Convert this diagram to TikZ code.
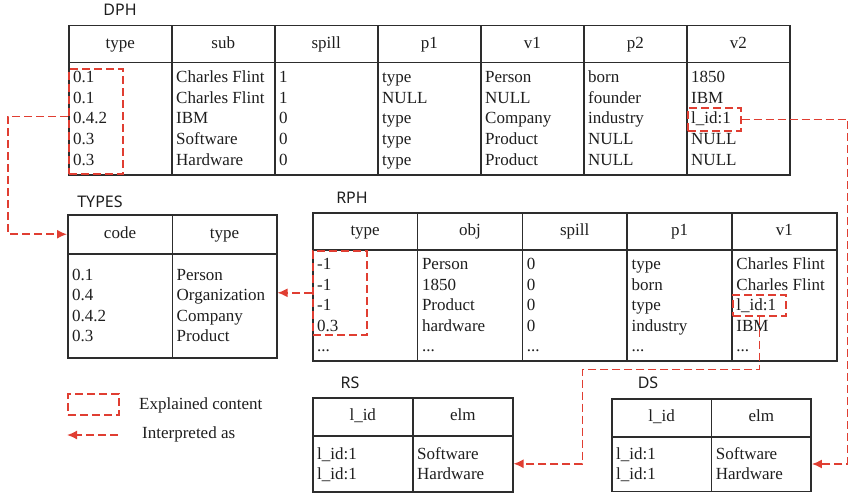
\documentclass[tikz,border=0pt]{standalone}
\usepackage{fontspec}
\setmainfont{Liberation Serif}
\newfontfamily\titlefont{Noto Sans}
\usetikzlibrary{arrows.meta}

\definecolor{tabline}{RGB}{45,45,45}
\definecolor{ink}{RGB}{30,30,30}
\definecolor{marker}{RGB}{224,62,50}

\newcommand\etcdots{...}

\tikzset{
  headcell/.style={draw=tabline, line width=1.5pt, anchor=north west, inner sep=0pt,
    text height=12pt, text depth=4pt},
  bodycell/.style={draw=tabline, line width=1.5pt, anchor=north west, inner sep=0pt},
  entry/.style={anchor=base west, inner sep=0pt},
  tabname/.style={font=\titlefont\fontsize{16}{16}\selectfont},
  explained/.style={draw=marker, line width=1.6pt, dash pattern=on 8pt off 4pt,
    anchor=north west, inner sep=0pt},
  interp/.style={draw=marker, line width=1.6pt, dash pattern=on 8pt off 4pt,
    -{Latex[length=10pt,width=9pt]}},
}

\begin{document}
\begin{tikzpicture}[x=1pt, y=-1pt, text=ink, font=\fontsize{17}{20.5}\selectfont]
\useasboundingbox (0,0) rectangle (850,492);

%DPH
\node[tabname] (dphname) at (120,10) {DPH};
\foreach \h [count=\c] in {type,sub,spill,p1,v1,p2,v2} {
  \node[headcell, minimum width=103pt, minimum height=37pt] (dph-h\c) at ({68+103*(\c-1)},25) {\h};
  \node[bodycell, minimum width=103pt, minimum height=112pt] (dph-b\c) at ({68+103*(\c-1)},62) {};
}
\foreach \c/\col in {1/{0.1,0.1,0.4.2,0.3,0.3},
    2/{Charles Flint,Charles Flint,IBM,Software,Hardware},
    3/{1,1,0,0,0},
    4/{type,NULL,type,type,type},
    5/{Person,NULL,Company,Product,Product},
    6/{born,founder,industry,NULL,NULL},
    7/{1850,IBM,l\_id:1,NULL,NULL}}
  \foreach \t [count=\r] in \col
    \node[entry] (dph-\c-\r) at ({73+103*(\c-1)},{83+20.5*(\r-1)}) {\t};

%TYPES
\node[tabname] (typesname) at (100,202) {TYPES};
\foreach \h [count=\c] in {code,type} {
  \node[headcell, minimum width=104.5pt, minimum height=39pt] (types-h\c) at ({67+104.5*(\c-1)},214) {\h};
  \node[bodycell, minimum width=104.5pt, minimum height=104pt] (types-b\c) at ({67+104.5*(\c-1)},253) {};
}
\foreach \c/\col in {1/{0.1,0.4,0.4.2,0.3},
    2/{Person,Organization,Company,Product}}
  \foreach \t [count=\r] in \col
    \node[entry] (types-\c-\r) at ({72+104.5*(\c-1)},{280+20.5*(\r-1)}) {\t};

%RPH
\node[tabname] (rphname) at (352,198) {RPH};
\foreach \h [count=\c] in {type,obj,spill,p1,v1} {
  \node[headcell, minimum width=104.8pt, minimum height=37pt] (rph-h\c) at ({312+104.8*(\c-1)},212) {\h};
  \node[bodycell, minimum width=104.8pt, minimum height=111pt] (rph-b\c) at ({312+104.8*(\c-1)},249) {};
}
\foreach \c/\col in {1/{-1,-1,-1,0.3,\etcdots},
    2/{Person,1850,Product,hardware,\etcdots},
    3/{0,0,0,0,\etcdots},
    4/{type,born,type,industry,\etcdots},
    5/{Charles Flint,Charles Flint,l\_id:1,IBM,\etcdots}}
  \foreach \t [count=\r] in \col
    \node[entry] (rph-\c-\r) at ({317+104.8*(\c-1)},{269.5+20.5*(\r-1)}) {\t};

%RS
\node[tabname] (rsname) at (350,383) {RS};
\foreach \h [count=\c] in {l\_id,elm} {
  \node[headcell, minimum width=100pt, minimum height=38pt] (rs-h\c) at ({312+100*(\c-1)},397) {\h};
  \node[bodycell, minimum width=100pt, minimum height=56pt] (rs-b\c) at ({312+100*(\c-1)},435) {};
}
\foreach \c/\col in {1/{l\_id:1,l\_id:1}, 2/{Software,Hardware}}
  \foreach \t [count=\r] in \col
    \node[entry] (rs-\c-\r) at ({317+100*(\c-1)},{459+20.5*(\r-1)}) {\t};

%DS
\node[tabname] (dsname) at (648,383) {DS};
\foreach \h [count=\c] in {l\_id,elm} {
  \node[headcell, minimum width=99.7pt, minimum height=38pt] (ds-h\c) at ({611+99.7*(\c-1)},398) {\h};
  \node[bodycell, minimum width=99.7pt, minimum height=54.5pt] (ds-b\c) at ({611+99.7*(\c-1)},436) {};
}
\foreach \c/\col in {1/{l\_id:1,l\_id:1}, 2/{Software,Hardware}}
  \foreach \t [count=\r] in \col
    \node[entry] (ds-\c-\r) at ({616+99.7*(\c-1)},{459+20.5*(\r-1)}) {\t};

%marked cells
\node[explained, minimum width=54pt, minimum height=105pt] (dphmark) at (68,68) {};
\node[explained, minimum width=53pt, minimum height=23pt] (v2mark) at (687,107) {};
\node[explained, minimum width=54pt, minimum height=84pt] (rphmark) at (312,250) {};
\node[explained, minimum width=53pt, minimum height=21pt] (v1mark) at (732,294) {};

%interpretation links
\draw[interp] ([yshift=5pt]dphmark.west) -- ++(-60,0) |- (types-h1.west);
\draw[interp] (rphmark.west) -- (rphmark.west -| types-b2.east);
\draw[interp] (v2mark.east) -- ++(106,0) |- (ds-b2.east);
\draw[interp] (v1mark.south) |- ++(-177,53) |- (rs-b2.east);

%legend
\node[explained, minimum width=51pt, minimum height=21pt] (legbox) at (67,393) {};
\node[entry] (legboxtext) at (139,409.5) {Explained content};
\coordinate (legarrow) at (118,435);
\draw[interp] (legarrow) -- ++(-51,0);
\node[entry] (legarrowtext) at (142,438) {Interpreted as};

\end{tikzpicture}
\end{document}
